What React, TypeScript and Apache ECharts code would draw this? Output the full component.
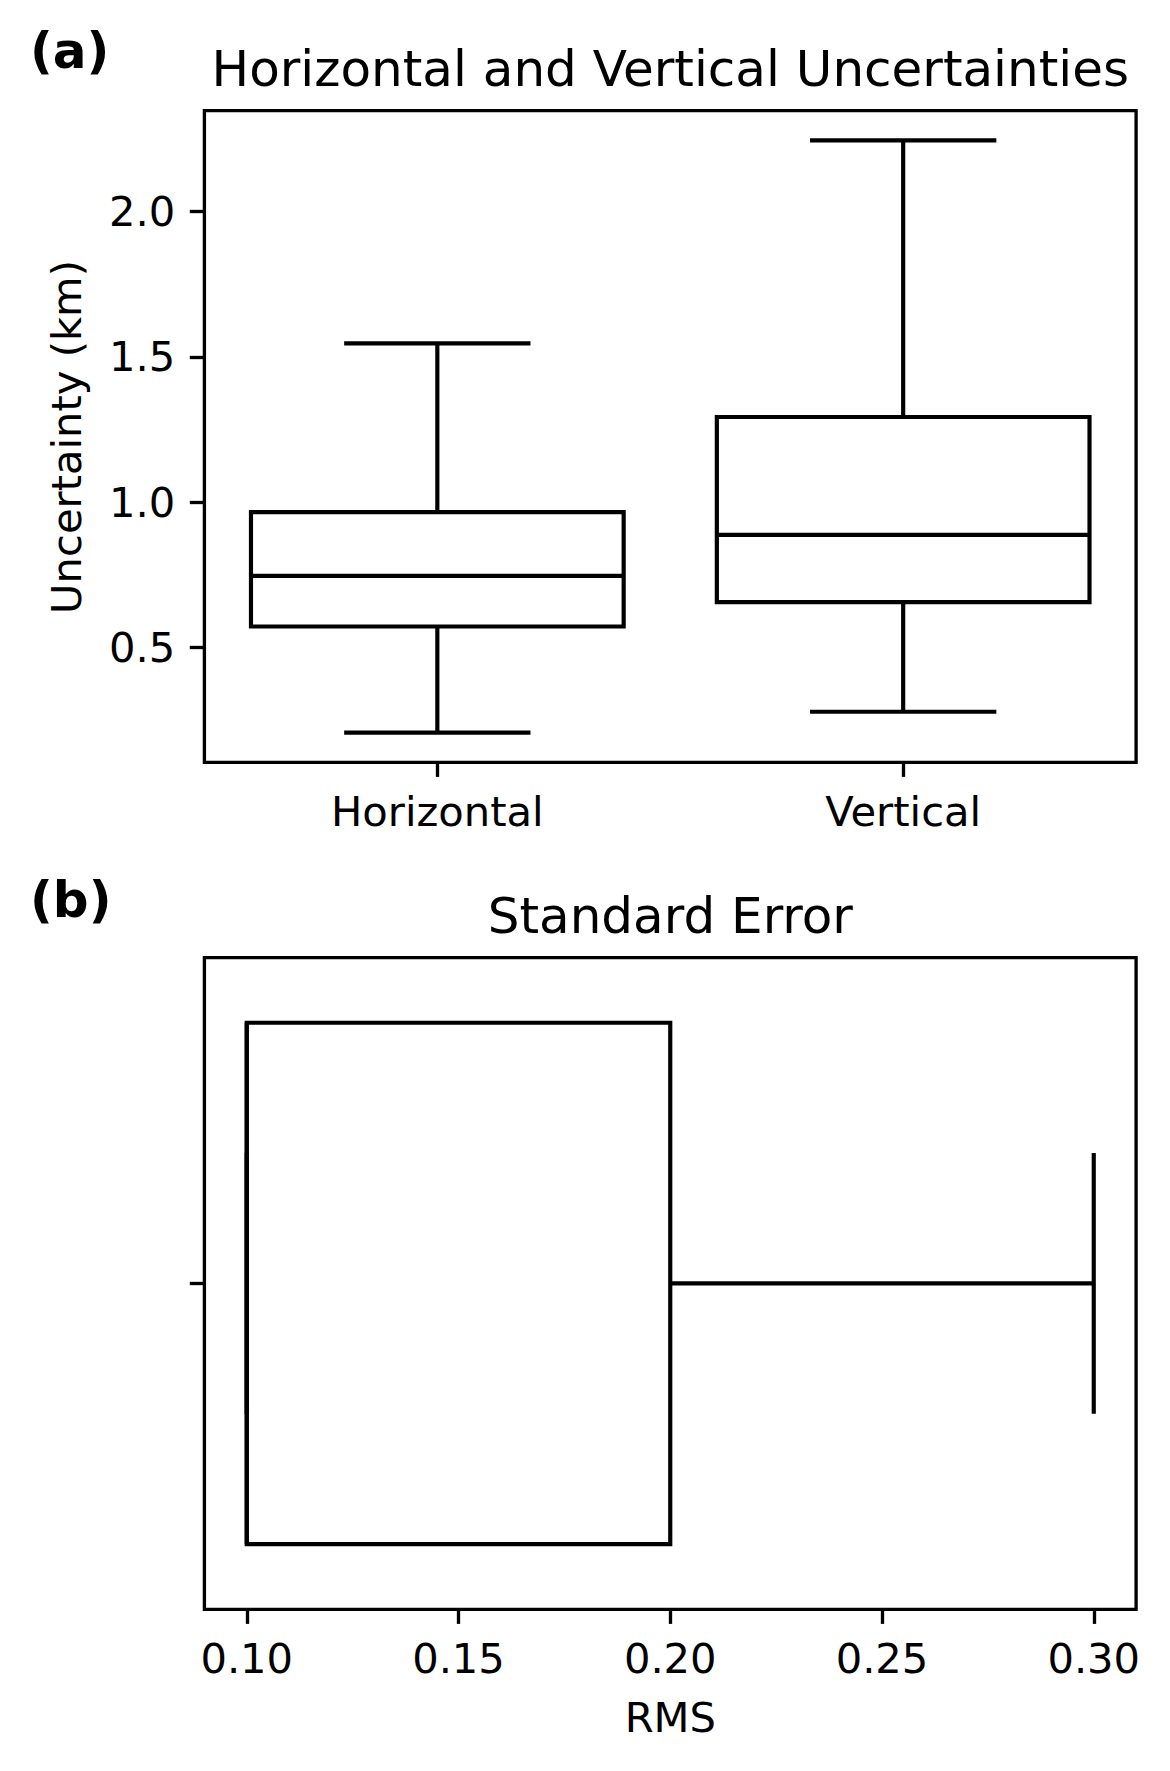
import React, { useEffect, useRef } from "react";
import * as echarts from "echarts";

// ---- Panel (a): Horizontal and Vertical Uncertainties ----
const categoriesA = ["Horizontal", "Vertical"];
const whiskerLowA = [0.208, 0.28];
const q1A = [0.573, 0.657];
const medianA = [0.747, 0.888];
const q3A = [0.966, 1.293];
const whiskerHighA = [1.546, 2.244];
const yTicksA = [0.5, 1.0, 1.5, 2.0];

// ---- Panel (b): Standard Error (RMS) ----
const categoriesB = [""];
const whiskerLowB = [0.1];
const q1B = [0.1];
const medianB = [0.1];
const q3B = [0.2];
const whiskerHighB = [0.3];
const xTicksB = [0.1, 0.15, 0.2, 0.25, 0.3];

const FONT = "DejaVu Sans";
const TICK_FS = 41.67;
const TITLE_FS = 50;
const BOX_LW = 4.17;
const SPINE_LW = 3.33;
const TICK_LEN = 14.6;

function padRange(lo: number, hi: number) {
  const r = hi - lo;
  return [lo - 0.05 * r, hi + 0.05 * r];
}

const [yMinA, yMaxA] = padRange(Math.min(...whiskerLowA), Math.max(...whiskerHighA));
const [xMinB, xMaxB] = padRange(Math.min(...whiskerLowB), Math.max(...whiskerHighB));

const lineStyle = { stroke: "#000", lineWidth: BOX_LW, fill: "none" };

function renderVerticalBox(params: any, api: any) {
  const idx = api.value(0);
  const lo = api.value(1);
  const q1 = api.value(2);
  const med = api.value(3);
  const q3 = api.value(4);
  const hi = api.value(5);
  const band = api.size([1, 0])[0];
  const cx = api.coord([idx, med])[0];
  const y = (v: number) => api.coord([idx, v])[1];
  const bw = band * 0.4;
  const cw = band * 0.2;
  return {
    type: "group",
    children: [
      { type: "line", shape: { x1: cx, y1: y(q1), x2: cx, y2: y(lo) }, style: lineStyle },
      { type: "line", shape: { x1: cx, y1: y(q3), x2: cx, y2: y(hi) }, style: lineStyle },
      { type: "line", shape: { x1: cx - cw, y1: y(lo), x2: cx + cw, y2: y(lo) }, style: lineStyle },
      { type: "line", shape: { x1: cx - cw, y1: y(hi), x2: cx + cw, y2: y(hi) }, style: lineStyle },
      { type: "rect", shape: { x: cx - bw, y: y(q3), width: 2 * bw, height: y(q1) - y(q3) }, style: lineStyle },
      { type: "line", shape: { x1: cx - bw, y1: y(med), x2: cx + bw, y2: y(med) }, style: lineStyle },
    ],
  };
}

function renderHorizontalBox(params: any, api: any) {
  const idx = api.value(0);
  const lo = api.value(1);
  const q1 = api.value(2);
  const med = api.value(3);
  const q3 = api.value(4);
  const hi = api.value(5);
  const band = api.size([0, 1])[1];
  const cy = api.coord([med, idx])[1];
  const x = (v: number) => api.coord([v, idx])[0];
  const bh = band * 0.4;
  const ch = band * 0.2;
  return {
    type: "group",
    children: [
      { type: "line", shape: { x1: x(q1), y1: cy, x2: x(lo), y2: cy }, style: lineStyle },
      { type: "line", shape: { x1: x(q3), y1: cy, x2: x(hi), y2: cy }, style: lineStyle },
      { type: "line", shape: { x1: x(lo), y1: cy - ch, x2: x(lo), y2: cy + ch }, style: lineStyle },
      { type: "line", shape: { x1: x(hi), y1: cy - ch, x2: x(hi), y2: cy + ch }, style: lineStyle },
      { type: "rect", shape: { x: x(q1), y: cy - bh, width: x(q3) - x(q1), height: 2 * bh }, style: lineStyle },
      { type: "line", shape: { x1: x(med), y1: cy - bh, x2: x(med), y2: cy + bh }, style: lineStyle },
    ],
  };
}

const tickStyle = { show: true, length: TICK_LEN, inside: false, lineStyle: { color: "#000", width: SPINE_LW } };
const labelBase = { color: "#000", fontSize: TICK_FS, fontFamily: FONT };

export default function App() {
  const ref = useRef<HTMLDivElement>(null);
  useEffect(() => {
    if (!ref.current) return;
    const chart = echarts.init(ref.current, null, { renderer: "svg" });
    const dataA = categoriesA.map((_, i) => [i, whiskerLowA[i], q1A[i], medianA[i], q3A[i], whiskerHighA[i]]);
    const dataB = categoriesB.map((_, i) => [i, whiskerLowB[i], q1B[i], medianB[i], q3B[i], whiskerHighB[i]]);
    const gridCommon = {
      show: true,
      borderColor: "#000",
      borderWidth: SPINE_LW,
      backgroundColor: "transparent",
      containLabel: false,
      outerBoundsMode: "none",
    };
    chart.setOption({
      animation: false,
      backgroundColor: "#fff",
      textStyle: { fontFamily: FONT },
      grid: [
        { ...gridCommon, left: 204.4, top: 110.7, width: 931.7, height: 651.6 },
        { ...gridCommon, left: 204.4, top: 957.6, width: 931.7, height: 651.7 },
      ],
      xAxis: [
        {
          type: "category",
          gridIndex: 0,
          data: categoriesA,
          boundaryGap: true,
          axisLine: { show: false },
          axisTick: { ...tickStyle, alignWithLabel: true },
          axisLabel: { ...labelBase, margin: 28 },
          splitLine: { show: false },
        },
        {
          type: "value",
          gridIndex: 1,
          min: xMinB,
          max: xMaxB,
          axisLine: { show: false },
          axisTick: { ...tickStyle, customValues: xTicksB },
          axisLabel: {
            ...labelBase,
            margin: 28,
            customValues: xTicksB,
            formatter: (v: number) => v.toFixed(2),
          },
          splitLine: { show: false },
        },
      ],
      yAxis: [
        {
          type: "value",
          gridIndex: 0,
          min: yMinA,
          max: yMaxA,
          axisLine: { show: false },
          axisTick: { ...tickStyle, customValues: yTicksA },
          axisLabel: {
            ...labelBase,
            margin: 29.2,
            customValues: yTicksA,
            formatter: (v: number) => v.toFixed(1),
          },
          splitLine: { show: false },
        },
        {
          type: "category",
          gridIndex: 1,
          data: categoriesB,
          boundaryGap: true,
          axisLine: { show: false },
          axisTick: { ...tickStyle, alignWithLabel: true },
          axisLabel: { ...labelBase, margin: 29.2 },
          splitLine: { show: false },
        },
      ],
      series: [
        {
          type: "custom",
          xAxisIndex: 0,
          yAxisIndex: 0,
          data: dataA,
          encode: { x: 0, y: [1, 2, 3, 4, 5] },
          renderItem: renderVerticalBox,
          silent: true,
        },
        {
          type: "custom",
          xAxisIndex: 1,
          yAxisIndex: 1,
          data: dataB,
          encode: { y: 0, x: [1, 2, 3, 4, 5] },
          renderItem: renderHorizontalBox,
          silent: true,
        },
      ],
      graphic: [
        {
          type: "text",
          x: 30,
          y: 51,
          style: { text: "(a)", fill: "#000", font: `bold ${TITLE_FS}px "${FONT}"`, align: "left", verticalAlign: "middle" },
        },
        {
          type: "text",
          x: 670.3,
          y: 68.8,
          style: {
            text: "Horizontal and Vertical Uncertainties",
            fill: "#000",
            font: `${TITLE_FS}px "${FONT}"`,
            align: "center",
            verticalAlign: "middle",
          },
        },
        {
          type: "text",
          x: 66.5,
          y: 437,
          rotation: Math.PI / 2,
          style: {
            text: "Uncertainty (km)",
            fill: "#000",
            font: `${TICK_FS}px "${FONT}"`,
            align: "center",
            verticalAlign: "middle",
          },
        },
        {
          type: "text",
          x: 30,
          y: 900,
          style: { text: "(b)", fill: "#000", font: `bold ${TITLE_FS}px "${FONT}"`, align: "left", verticalAlign: "middle" },
        },
        {
          type: "text",
          x: 670.3,
          y: 916,
          style: {
            text: "Standard Error",
            fill: "#000",
            font: `${TITLE_FS}px "${FONT}"`,
            align: "center",
            verticalAlign: "middle",
          },
        },
        {
          type: "text",
          x: 670.3,
          y: 1717,
          style: {
            text: "RMS",
            fill: "#000",
            font: `${TICK_FS}px "${FONT}"`,
            align: "center",
            verticalAlign: "middle",
          },
        },
      ],
    });
    return () => chart.dispose();
  }, []);
  return (
    <div
      ref={ref}
      style={{ position: "absolute", left: 0, top: 0, width: 1170, height: 1771, background: "#fff" }}
    />
  );
}
